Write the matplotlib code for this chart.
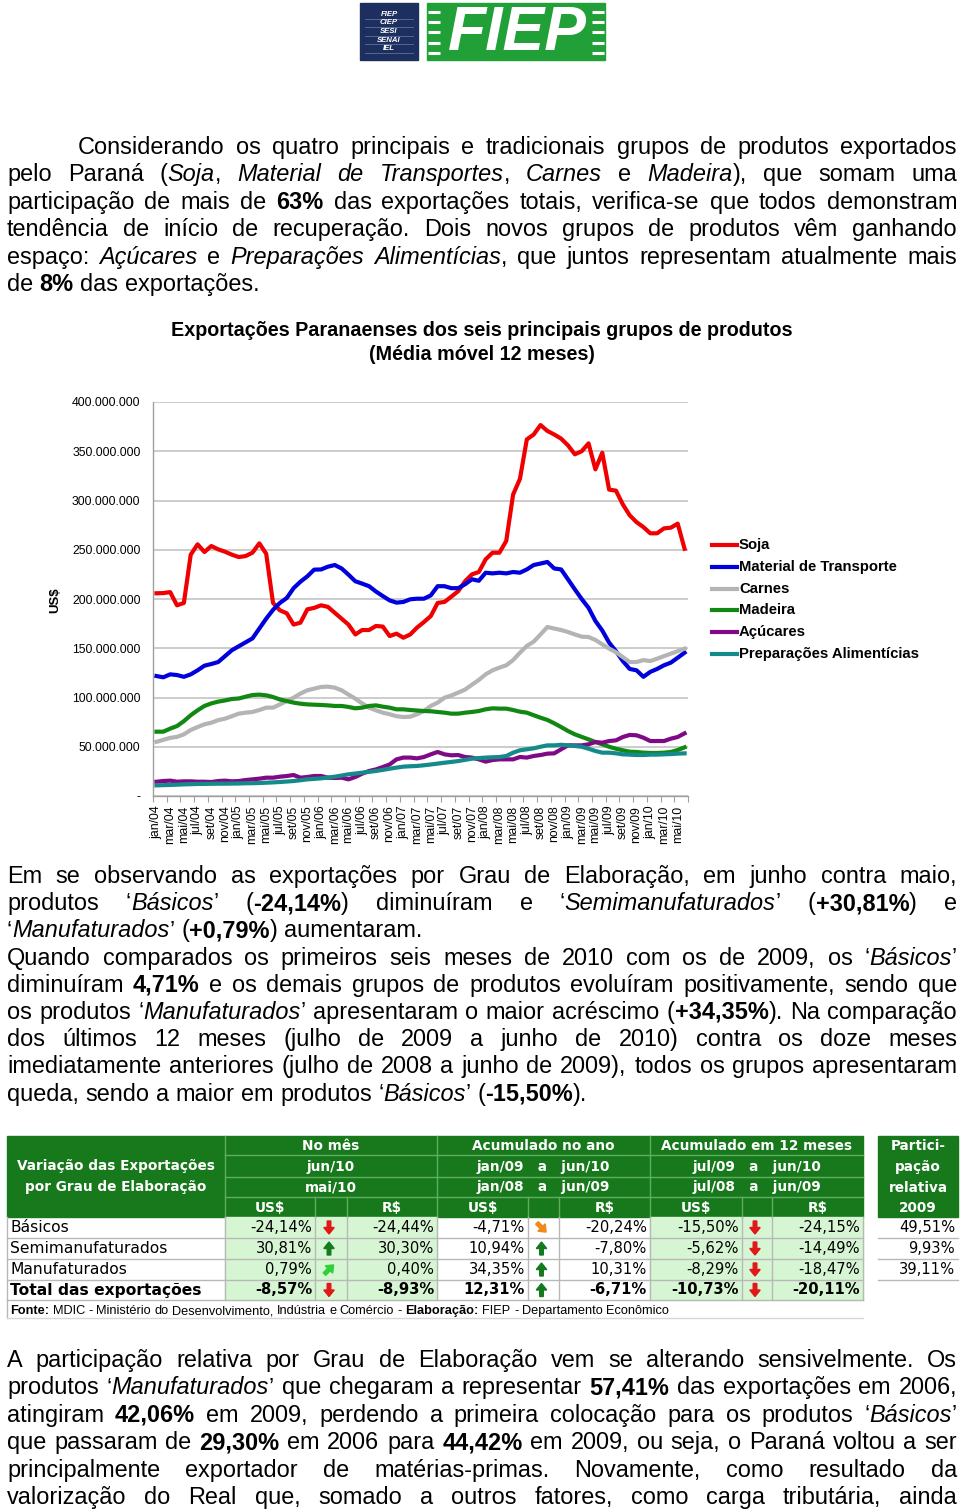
import matplotlib
matplotlib.use('Agg')
import matplotlib.pyplot as plt
import numpy as np
from matplotlib.patches import Rectangle, Polygon
from matplotlib.lines import Line2D

# ---------------- data ----------------
x_tick_labels = ['jan/04', 'mar/04', 'mai/04', 'jul/04', 'set/04', 'nov/04',
                 'jan/05', 'mar/05', 'mai/05', 'jul/05', 'set/05', 'nov/05',
                 'jan/06', 'mar/06', 'mai/06', 'jul/06', 'set/06', 'nov/06',
                 'jan/07', 'mar/07', 'mai/07', 'jul/07', 'set/07', 'nov/07',
                 'jan/08', 'mar/08', 'mai/08', 'jul/08', 'set/08', 'nov/08',
                 'jan/09', 'mar/09', 'mai/09', 'jul/09', 'set/09', 'nov/09',
                 'jan/10', 'mar/10', 'mai/10']

# values in millions of US$ (jan/04 .. jun/10, 78 months)
soja = [205.8, 206, 207, 193.6, 196, 245, 255.5, 247.7, 253.8, 250.4, 248, 245, 242.6, 243.6, 247, 256.5, 246,
        196, 188.5, 185.5, 174, 176, 189.5, 191, 193.6, 192, 186, 180, 174, 164, 168.5, 168.5, 172.6, 172, 162.4,
        164.8, 160.7, 164, 171,
        176.6, 182.7, 196, 197, 202.4, 208, 218, 225, 227.4, 240.3, 247, 247, 258.9, 306, 322, 362, 367, 376.6,
        370.6, 367, 362.8, 356, 346.9, 350, 358, 331.6, 348.5, 311, 310, 296, 285, 278, 273, 266.7, 266.7, 271.7,
        272.4, 276.5, 251]
material_transporte = [121.8, 120.5, 123.5, 122.8, 121, 123.5, 127.6, 132.3, 134, 136, 142, 148, 152, 156, 160,
                       170, 180, 189, 196, 201, 211, 217.6, 223, 229.8, 230, 232.8, 234.5, 231, 224.7, 218, 215.6,
                       213, 207.6, 203, 198.6, 196.3, 197, 199.7, 200.3,
                       200.3, 203.7, 213, 213, 211, 211, 215, 220, 218.5, 226.7, 226, 226.7, 226, 227.4, 226.7, 230,
                       234.5, 236, 237.6, 231, 230, 220, 209.8, 200, 191, 177.7, 168, 155.7, 147, 137, 129, 127.6,
                       121, 126, 129, 132.7, 135.4, 140.4, 145.5]
carnes = [55, 57, 59, 60, 62.6, 67, 70, 72.8, 74.4, 77, 78.5, 81, 83.6, 84.6, 85.3, 87.3, 89.7, 89.7, 93, 96.4,
          99.8, 104, 107.3, 109, 110.7, 111, 110, 107.3, 103, 98.8, 94, 89.7, 87, 84.6, 83, 81, 80.2, 80.5, 83,
          86.3, 91.4, 94.8, 99.8, 102, 105, 108, 113, 117.8, 123.5, 127.6, 130.3, 132.7, 138, 145.5, 152.3, 156.7,
          164, 171.6, 170, 168.5, 166.5, 164, 161.8, 161.4, 158.4, 154, 149.6, 146, 141, 136, 136, 138, 137, 139.4,
          142, 144.5, 147, 149.6]
madeira = [65.3, 65.3, 68.4, 71, 76, 82, 87, 91.4, 94, 95.8, 97, 98.5, 99, 100.8, 102.5, 102.9, 102.2, 100.5, 98,
           96.4, 94.8, 93.7, 93, 92.7, 92.4, 92, 91.4, 91.4, 90.4, 89, 89.7, 91.4, 92, 90.7, 89.7, 88, 88, 87.3,
           86.8,
           86.3, 86, 85.3, 84.6, 83.6, 83.6, 84.6, 85.3, 86.3, 88, 89, 88.7, 88.7, 87.3, 85.6, 84.6, 82, 79.5, 77.2,
           73.8, 70, 66, 62.6, 60, 57.5, 54.8, 52.5, 50, 48, 46.4, 45, 44.7, 44, 43.7, 43.7, 44, 44.7, 46.7, 49.4]
acucares = [14.5, 15.2, 15.6, 14.5, 14.9, 14.9, 14.5, 14.5, 14.2, 15.2, 15.6, 14.9, 15.2, 16.2, 16.9, 17.6, 18.6,
            18.6, 19.6, 20.3, 21.3, 18.6, 19.3, 20.3, 20.3, 18.6, 18.3, 18.6, 16.9, 19.3, 22.7, 25.4, 27, 29.4, 32,
            37.2, 39, 39, 38.2,
            39.6, 42.3, 44.7, 42.3, 41.3, 41.6, 39.6, 39, 37.2, 34.9, 36.5, 37.2, 37.2, 37.2, 39.6, 39, 40.6, 41.6,
            43, 43.3, 47.4, 51.4, 51.4, 51.4, 52.5, 54.8, 54.1, 55.8, 56.5, 59.9, 62, 61.6, 59.2, 55.8, 55.8, 55.8,
            58.2, 59.9, 63.6]
preparacoes = [10.8, 11, 11.2, 11.5, 11.8, 12, 12.2, 12.3, 12.4, 12.5, 12.5, 12.6, 12.7, 12.9, 13, 13.2, 13.5,
               13.8, 14.2, 14.7, 15.2, 16, 16.9, 17.4, 17.9, 18.7, 19.6, 20.8, 22, 22.8, 23.7, 24.5, 25.4, 26.5,
               27.7, 28.8, 29.8, 30.2, 30.5,
               31.2, 32, 32.9, 33.8, 34.6, 35.5, 36.7, 37.9, 38.5, 39, 39.3, 39.6, 40.6, 44, 46.4, 47.4, 48.4, 50,
               51.4, 51.4, 52, 51.4, 50.8, 50, 48, 45.7, 44, 44, 43.3, 42.3, 42, 41.6, 41.6, 42, 42, 42.3, 42.6, 43,
               43.3]

series_names = ['Soja', 'Material de Transporte', 'Carnes', 'Madeira', 'Açúcares', 'Preparações Alimentícias']
series_values = [soja, material_transporte, carnes, madeira, acucares, preparacoes]
series_colors = ['#f00000', '#0000dd', '#b4b4b4', '#118811', '#800a85', '#158a8a']
y_ticks_millions = [0, 50, 100, 150, 200, 250, 300, 350, 400]

# table data
row_labels = ['Básicos', 'Semimanufaturados', 'Manufaturados', 'Total das exportações']
mes_usd = [-24.14, 30.81, 0.79, -8.57]
mes_brl = [-24.44, 30.30, 0.40, -8.93]
ano_usd = [-4.71, 10.94, 34.35, 12.31]
ano_brl = [-20.24, -7.80, 10.31, -6.71]
m12_usd = [-15.50, -5.62, -8.29, -10.73]
m12_brl = [-24.15, -14.49, -18.47, -20.11]
participacao = [49.51, 9.93, 39.11]
mes_arrow = ['down', 'up', 'upright', 'down']
ano_arrow = ['downright', 'up', 'up', 'up']
m12_arrow = ['down', 'down', 'down', 'down']

# ---------------- figure ----------------
W, H = 960, 1510
fig = plt.figure(figsize=(9.6, 15.1), dpi=100)
bg = fig.add_axes([0, 0, 1, 1])
bg.set_xlim(0, W)
bg.set_ylim(H, 0)
bg.axis('off')
renderer = fig.canvas.get_renderer()

BODY = 'Liberation Sans'
BS = 16.9


def fkw(it, b, size, family):
    return dict(fontsize=size, family=family, fontstyle='italic' if it else 'normal',
                fontweight='bold' if b else 'normal')


def width(s, kw):
    t = bg.text(0, 0, s, **kw)
    w = t.get_window_extent(renderer).width
    t.remove()
    return w


def parse(line):
    it = False
    b = False
    words = [[]]
    cur = ''
    for ch in line:
        if ch in '_^':
            if cur:
                words[-1].append((cur, it, b))
                cur = ''
            if ch == '_':
                it = not it
            else:
                b = not b
        elif ch == ' ':
            if cur:
                words[-1].append((cur, it, b))
                cur = ''
            if words[-1]:
                words.append([])
        else:
            cur += ch
    if cur:
        words[-1].append((cur, it, b))
    if not words[-1]:
        words.pop()
    return words


def draw_line(line, y, x0=7, x1=957, justify=True, size=BS, family=BODY, color='black'):
    words = parse(line)
    pw = [[width(t, fkw(i, b, size, family)) for (t, i, b) in w] for w in words]
    total = sum(sum(p) for p in pw)
    sp = width('a a', fkw(False, False, size, family)) - width('aa', fkw(False, False, size, family))
    if justify and len(words) > 1:
        gap = (x1 - x0 - total) / (len(words) - 1)
    else:
        gap = sp
    x = x0
    for w, p in zip(words, pw):
        for (t, i, b), wd in zip(w, p):
            bg.text(x, y, t, va='baseline', ha='left', color=color, **fkw(i, b, size, family))
            x += wd
        x += gap


# ---------------- logo ----------------
bg.add_patch(Rectangle((360, 3), 58, 57, color='#1c2f5f', zorder=1))
for yy in [18.5, 27, 35.5, 44, 52.5]:
    bg.plot([365, 413], [yy, yy], color='#5d6f9a', lw=0.6, zorder=2)
for txt, yy in zip(['FIEP', 'CIEP', 'SESI', 'SENAI', 'IEL'], [14.5, 23, 31.5, 40, 48.5]):
    bg.text(389, yy, txt, color='white', fontsize=5.6, fontweight='bold', fontstyle='italic',
            family='Liberation Sans', ha='center', va='center', zorder=3)
bg.add_patch(Rectangle((427, 3), 178, 57, color='#21a038', zorder=1))
for yy in [12, 22, 32, 43, 53]:
    bg.plot([428, 440], [yy, yy], color='white', lw=2.2, zorder=2, solid_capstyle='butt')
    bg.plot([592, 604], [yy, yy], color='white', lw=2.2, zorder=2, solid_capstyle='butt')
bg.text(517, 34, 'FIEP', color='white', fontsize=45, fontweight='bold', fontstyle='italic',
        family='Liberation Sans', ha='center', va='center', zorder=3)

# ---------------- paragraph 1 ----------------
p1 = [
    ("Considerando os quatro principais e tradicionais grupos de produtos exportados", 78, True),
    ("pelo Paraná (_Soja_, _Material de Transportes_, _Carnes_ e _Madeira_), que somam uma", 7, True),
    ("participação de mais de ^63%^ das exportações totais, verifica-se que todos demonstram", 7, True),
    ("tendência de início de recuperação. Dois novos grupos de produtos vêm ganhando", 7, True),
    ("espaço: _Açúcares_ e _Preparações Alimentícias_, que juntos representam atualmente mais", 7, True),
    ("de ^8%^ das exportações.", 7, False),
]
for k, (ln, x0, j) in enumerate(p1):
    draw_line(ln, 154 + 27.4 * k, x0=x0, justify=j)

# ---------------- chart ----------------
bg.text(482, 336, 'Exportações Paranaenses dos seis principais grupos de produtos', ha='center',
        va='baseline', fontsize=14.2, fontweight='bold', family=BODY)
bg.text(482, 360, '(Média móvel 12 meses)', ha='center', va='baseline', fontsize=14.2,
        fontweight='bold', family=BODY)

ax = fig.add_axes([153 / W, 1 - 796 / H, 535 / W, 394 / H])
xs = np.arange(len(soja))
for vals, col, name in zip(series_values, series_colors, series_names):
    ax.plot(xs, np.array(vals) * 1e6, color=col, lw=3.0, solid_joinstyle='round', label=name)
ax.set_xlim(-0.5, len(soja) - 0.5)
ax.set_ylim(0, 400e6)
yt = [v * 1e6 for v in y_ticks_millions]
ax.set_yticks(yt)
ax.set_yticklabels(['-' if v == 0 else f"{int(v * 1e6):,}".replace(',', '.') for v in y_ticks_millions],
                   fontsize=8.8, family=BODY)
ax.set_xticks(np.arange(0, len(soja), 2))
ax.set_xticklabels(x_tick_labels, rotation=90, fontsize=8.8, family=BODY, va='top')
ax.set_xticks(np.arange(-0.5, len(soja), 2), minor=True)
ax.tick_params(axis='x', which='major', length=0, pad=7)
ax.tick_params(axis='x', which='minor', length=4, color='#a0a0a0', width=0.8)
ax.tick_params(axis='y', length=0, pad=9)
ax.yaxis.grid(True, color='#c8c8c8', lw=1.3)
ax.set_axisbelow(True)
for s in ['top', 'right']:
    ax.spines[s].set_visible(False)
for s in ['left', 'bottom']:
    ax.spines[s].set_color('#a0a0a0')
    ax.spines[s].set_linewidth(1.0)

bg.text(55, 600, 'US$', rotation=90, ha='center', va='center', fontsize=9.5, fontweight='bold', family=BODY)

# legend
for k, (name, col) in enumerate(zip(series_names, series_colors)):
    yy = 545 + 21.8 * k
    bg.add_line(Line2D([712, 737], [yy, yy], color=col, lw=3.0))
    bg.text(739, yy, name, ha='left', va='center', fontsize=10.7, fontweight='bold', family=BODY)

# ---------------- paragraph 2 ----------------
p2 = [
    ("Em se observando as exportações por Grau de Elaboração, em junho contra maio,", True),
    ("produtos ‘_Básicos_’ (^-24,14%^) diminuíram e ‘_Semimanufaturados_’ (^+30,81%^) e", True),
    ("‘_Manufaturados_’ (^+0,79%^) aumentaram.", False),
    ("Quando comparados os primeiros seis meses de 2010 com os de 2009, os ‘_Básicos_’", True),
    ("diminuíram ^4,71%^ e os demais grupos de produtos evoluíram positivamente, sendo que", True),
    ("os produtos ‘_Manufaturados_’ apresentaram o maior acréscimo (^+34,35%^). Na comparação", True),
    ("dos últimos 12 meses (julho de 2009 a junho de 2010) contra os doze meses", True),
    ("imediatamente anteriores (julho de 2008 a junho de 2009), todos os grupos apresentaram", True),
    ("queda, sendo a maior em produtos ‘_Básicos_’ (^-15,50%^).", False),
]
for k, (ln, j) in enumerate(p2):
    draw_line(ln, 883 + 27.2 * k, justify=j)

# ---------------- table ----------------
GREEN = '#17791c'
LGREEN = '#d6f5d2'
SEP = '#5fae5f'
GRID = '#b8b8b8'
TF = 'DejaVu Sans'
hy = [1136, 1155, 1177, 1197, 1217]
ry = [1217, 1238, 1259, 1280, 1300]
groups = [(225, 315, 347, 437), (437, 528, 559, 650), (650, 742, 772, 863)]

bg.add_patch(Rectangle((7, 1136), 218, 81, color=GREEN, zorder=1))
bg.add_patch(Rectangle((225, 1136), 638, 81, color=GREEN, zorder=1))
bg.add_patch(Rectangle((878, 1136), 80, 81, color=GREEN, zorder=1))
for yy in hy[1:4]:
    bg.plot([225, 863], [yy, yy], color=SEP, lw=1, zorder=2)
for g in groups:
    bg.plot([g[0], g[0]], [1136, 1217], color=SEP, lw=1, zorder=2)
    bg.plot([g[1], g[1]], [1197, 1217], color=SEP, lw=1, zorder=2)
    bg.plot([g[2], g[2]], [1197, 1217], color=SEP, lw=1, zorder=2)

hkw = dict(color='white', fontweight='bold', family=TF, fontsize=9.8, ha='center', va='center', zorder=3)
bg.text(116, 1166, 'Variação das Exportações', **hkw)
bg.text(116, 1187, 'por Grau de Elaboração', **hkw)
titles = [('No mês', 'jun/10', 'mai/10'),
          ('Acumulado no ano', 'jan/09   a   jun/10', 'jan/08   a   jun/09'),
          ('Acumulado em 12 meses', 'jul/09   a   jun/10', 'jul/08   a   jun/09')]
for g, (t1, t2, t3) in zip(groups, titles):
    cx = (g[0] + g[3]) / 2
    bg.text(cx, 1146, t1, **hkw)
    bg.text(cx, 1166.5, t2, **hkw)
    bg.text(cx, 1187.5, t3, **hkw)
    bg.text((g[0] + g[1]) / 2, 1207.5, 'US$', **hkw)
    bg.text((g[2] + g[3]) / 2, 1207.5, 'R$', **hkw)
for txt, yy in zip(['Partici-', 'pação', 'relativa', '2009'], [1146, 1166.5, 1187.5, 1207.5]):
    bg.text(918, yy, txt, **hkw)

# data fills
for g in [groups[0], groups[2]]:
    bg.add_patch(Rectangle((g[0], 1217), g[3] - g[0], 83, color=LGREEN, zorder=1))
for yy in ry[1:]:
    bg.plot([7, 863], [yy, yy], color=GRID, lw=1, zorder=2)
for xx in [7, 225, 315, 347, 437, 528, 559, 650, 742, 772, 863]:
    bg.plot([xx, xx], [1217, 1300], color=GRID, lw=1, zorder=2)
bg.plot([7, 7], [1300, 1318], color=GRID, lw=1, zorder=2)
bg.plot([7, 863], [1318, 1318], color='#d8d8d8', lw=1, zorder=2)
for yy in ry[1:4]:
    bg.plot([878, 958], [yy, yy], color=GRID, lw=1, zorder=2)


def fmt(v):
    return f"{v:.2f}".replace('.', ',') + '%'


ARROW_COL = {'down': '#e01818', 'up': '#137a20', 'upright': '#2fd03a', 'downright': '#f08a1c'}
ARROW_ANG = {'down': 180, 'up': 0, 'upright': -45, 'downright': -135}


def arrow(cx, cy, kind):
    pts = np.array([(-1.8, -6.5), (1.8, -6.5), (1.8, 0), (5.2, 0), (0, 6.5), (-5.2, 0), (-1.8, 0)])
    a = np.deg2rad(ARROW_ANG[kind])
    R = np.array([[np.cos(a), -np.sin(a)], [np.sin(a), np.cos(a)]])
    p = pts @ R.T
    bg.add_patch(Polygon(np.column_stack([cx + p[:, 0], cy - p[:, 1]]), closed=True,
                         color=ARROW_COL[kind], zorder=3))


for r in range(4):
    cy = (ry[r] + ry[r + 1]) / 2
    bold = 'bold' if r == 3 else 'normal'
    dkw = dict(family=TF, fontsize=10.6, fontweight=bold, va='center', zorder=3)
    bg.text(10, cy, row_labels[r], ha='left', family=TF, fontsize=11.2, fontweight=bold,
            va='center', zorder=3)
    for g, vu, vb, ar in zip(groups, [mes_usd, ano_usd, m12_usd], [mes_brl, ano_brl, m12_brl],
                             [mes_arrow, ano_arrow, m12_arrow]):
        bg.text(g[1] - 3, cy, fmt(vu[r]), ha='right', **dkw)
        bg.text(g[3] - 3, cy, fmt(vb[r]), ha='right', **dkw)
        arrow((g[1] + g[2]) / 2 - 2, cy, ar[r])
    if r < 3:
        bg.text(955, cy, fmt(participacao[r]), ha='right', **dkw)

draw_line("^Fonte:^ MDIC - Ministério do Desenvolvimento, Indústria e Comércio - ^Elaboração:^ FIEP - "
          "Departamento Econômico", 1314, x0=10, justify=False, size=9.2)

# ---------------- paragraph 3 ----------------
p3 = [
    "A participação relativa por Grau de Elaboração vem se alterando sensivelmente. Os",
    "produtos ‘_Manufaturados_’ que chegaram a representar ^57,41%^ das exportações em 2006,",
    "atingiram ^42,06%^ em 2009, perdendo a primeira colocação para os produtos ‘_Básicos_’",
    "que passaram de ^29,30%^ em 2006 para ^44,42%^ em 2009, ou seja, o Paraná voltou a ser",
    "principalmente exportador de matérias-primas. Novamente, como resultado da",
    "valorização do Real que, somado a outros fatores, como carga tributária, ainda",
]
for k, ln in enumerate(p3):
    draw_line(ln, 1367 + 27.4 * k, justify=True)

fig.savefig('out.png', dpi=100)
